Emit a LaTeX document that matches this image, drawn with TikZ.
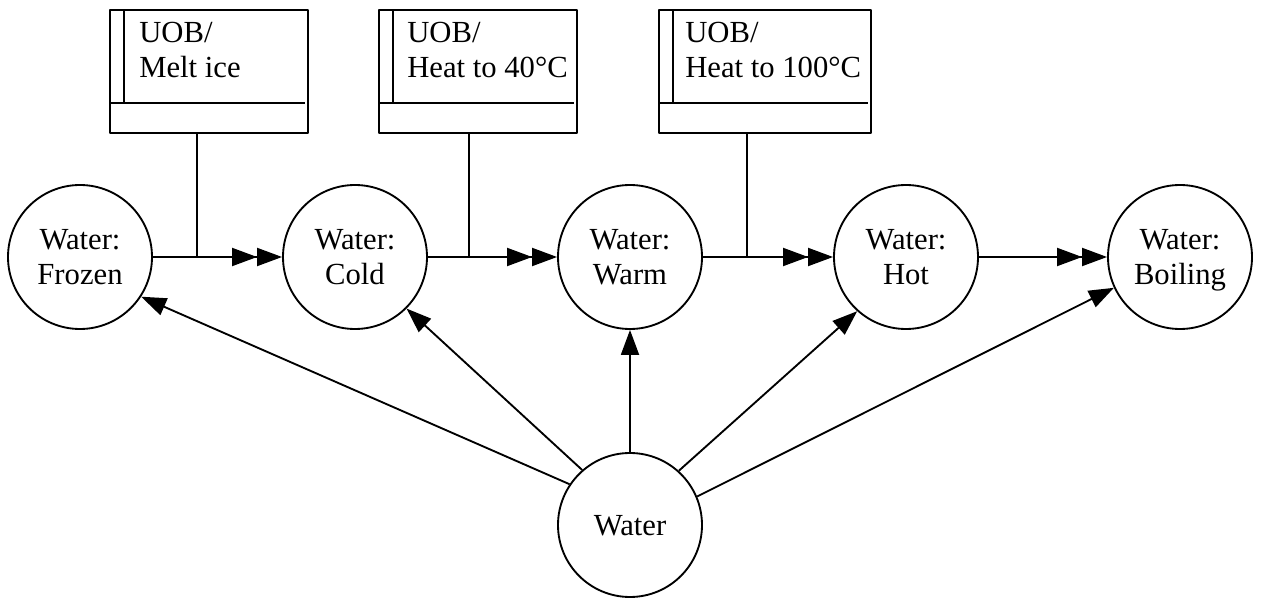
\documentclass[tikz,border=0pt]{standalone}
\usepackage{fontspec}
\setmainfont{Liberation Serif}
\usetikzlibrary{arrows.meta}
\tikzset{
  state/.style={circle, draw, line width=1.4pt, minimum size=108pt, inner sep=0pt,
    align=center, font=\fontsize{23}{26}\selectfont, text depth=0pt},
  uob/.style={rectangle, draw, line width=1.4pt, minimum height=92.25pt, inner sep=0pt},
  uobtext/.style={anchor=north west, inner sep=0pt, align=left, font=\fontsize{23}{26}\selectfont},
  step2/.style={line width=1.4pt, -{Triangle[length=18.75pt,width=13.5pt]Triangle[length=18.75pt,width=13.5pt]}},
  isa/.style={line width=1.4pt, -{Triangle[length=18.75pt,width=13.5pt]}},
}
\begin{document}
\begin{tikzpicture}[x=0.75pt, y=-0.75pt, line join=round]
  \useasboundingbox (0,0) rectangle (1264,598);
  % Zustaende
  \node[state] (frozen)  at (80,257)   {Water:\\Frozen};
  \node[state] (cold)    at (355,257)  {Water:\\Cold};
  \node[state] (warm)    at (630,257)  {Water:\\Warm};
  \node[state] (hot)     at (906,257)  {Water:\\Hot};
  \node[state] (boiling) at (1180,257) {Water:\\Boiling};
  \node[state] (water)   at (630,525)  {Water};
  % UOB-Kaesten
  \node[uob, minimum width=148.5pt] (ub1) at (209,71.5) {};
  \node[uob, minimum width=148.5pt] (ub2) at (478,71.5) {};
  \node[uob, minimum width=159pt]   (ub3) at (765,71.5) {};
  \foreach \b in {ub1,ub2,ub3} {
    \draw[line width=1.4pt] ([yshift=23.25pt]\b.south west) -- ([xshift=-3pt,yshift=23.25pt]\b.south east);
    \draw[line width=1.4pt] ([xshift=11.25pt]\b.north west) -- ([xshift=11.25pt,yshift=23.25pt]\b.south west);
  }
  \node[uobtext] (t1) at (139,22) {UOB/\\Melt ice};
  \node[uobtext] (t2) at (407,22) {UOB/\\Heat to 40°C};
  \node[uobtext] (t3) at (685,22) {UOB/\\Heat to 100°C};
  % Uebergaenge
  \draw[step2] (frozen) -- (cold);
  \draw[step2] (cold) -- (warm);
  \draw[step2] (warm) -- (hot);
  \draw[step2] (hot) -- (boiling);
  \coordinate (j1) at (197,257);
  \coordinate (j2) at (469,257);
  \coordinate (j3) at (747,257);
  \draw[line width=1.4pt] (j1 |- ub1.south) -- (j1);
  \draw[line width=1.4pt] (j2 |- ub2.south) -- (j2);
  \draw[line width=1.4pt] (j3 |- ub3.south) -- (j3);
  % Water ist jeder Zustand
  \draw[isa] (water.146.7) -- (frozen.-33.5);
  \draw[isa] (water.131)   -- (cold.-45.6);
  \draw[isa] (water.90)    -- (warm.-90);
  \draw[isa] (water.48.4)  -- (hot.-132.8);
  \draw[isa] (water.23.7)  -- (boiling.-155);
\end{tikzpicture}
\end{document}
